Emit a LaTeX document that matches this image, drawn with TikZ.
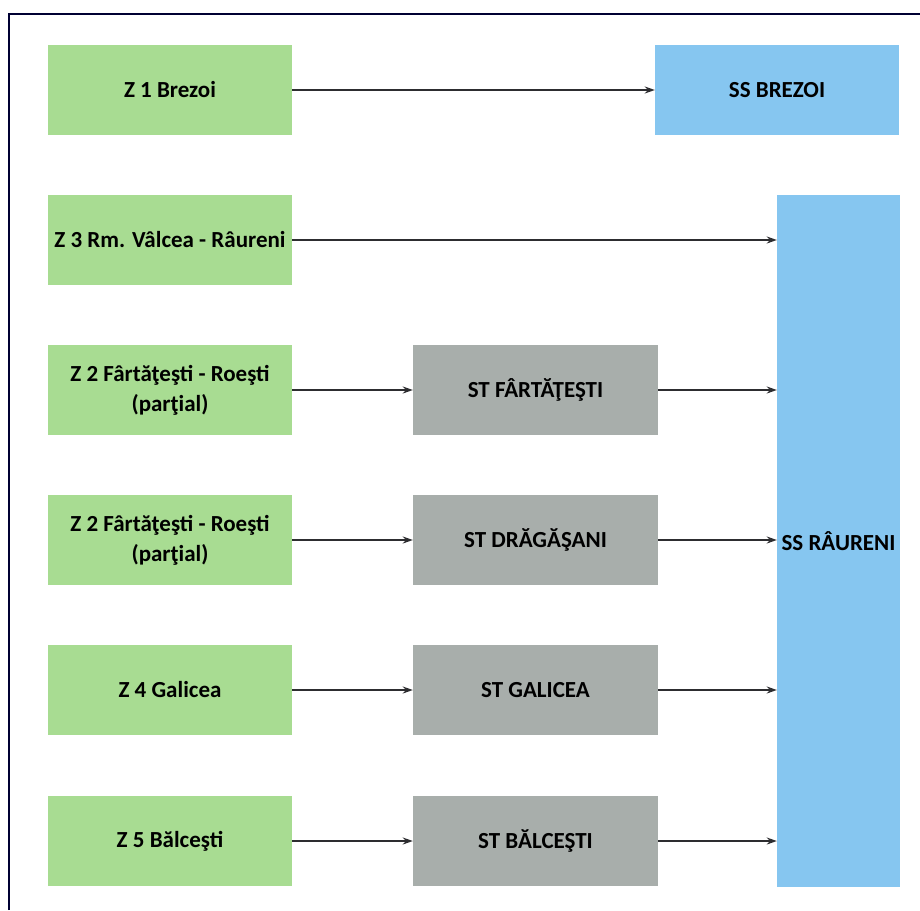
\documentclass[tikz,border=0pt]{standalone}
\usepackage{fontspec}
\setmainfont{Carlito}
\usetikzlibrary{arrows.meta,positioning}

\definecolor{zonegreen}{RGB}{168,220,146}
\definecolor{ssblue}{RGB}{134,198,240}
\definecolor{stgrey}{RGB}{168,174,171}
\definecolor{arrowgrey}{RGB}{45,45,48}

\begin{document}
\begin{tikzpicture}[
    x=1pt, y=-1pt,
    zone/.style={fill=zonegreen, minimum width=244pt, minimum height=90pt,
                 inner sep=0pt, align=center, font=\fontsize{23}{30}\selectfont\bfseries},
    station/.style={zone, fill=stgrey, minimum width=245pt},
    subst/.style={zone, fill=ssblue},
    arr/.style={-{Stealth[length=10pt, width=7pt]}, line width=1.6pt, arrowgrey},
]
\useasboundingbox (0,0) rectangle (920,910);

% frame (only top and left edges show)
\draw[line width=1.6pt, black!80!blue] (9,910) -- (9,14) -- (920,14);

% zones
\node[zone] (z1)  at (170,90)  {Z 1 Brezoi};
\node[zone] (z3)  at (170,240) {Z 3 Rm. Vâlcea - Râureni};
\node[zone] (z2a) at (170,390) {Z 2 Fârtăţeşti - Roeşti\\(parţial)};
\node[zone] (z2b) at (170,540) {Z 2 Fârtăţeşti - Roeşti\\(parţial)};
\node[zone] (z4)  at (170,690) {Z 4 Galicea};
\node[zone] (z5)  at (170,841) {Z 5 Bălceşti};

% stations
\node[station] (stf) at (535.5,390) {ST FÂRTĂŢEŞTI};
\node[station] (std) at (535.5,540) {ST DRĂGĂŞANI};
\node[station] (stg) at (535.5,690) {ST GALICEA};
\node[station] (stb) at (535.5,841) {ST BĂLCEŞTI};

% substations
\node[subst] (ssb) at (777,90) {SS BREZOI};
\node[subst, minimum width=123pt, minimum height=692pt] (ssr) at (838.5,541) {SS RÂURENI};

% links
\draw[arr] (z1) -- (ssb);
\draw[arr] (z3) -- (ssr.west |- z3);
\draw[arr] (z2a) -- (stf);
\draw[arr] (z2b) -- (std);
\draw[arr] (z4) -- (stg);
\draw[arr] (z5) -- (stb);
\foreach \s in {stf,std,stg,stb}
    \draw[arr] (\s) -- (ssr.west |- \s);
\end{tikzpicture}
\end{document}
